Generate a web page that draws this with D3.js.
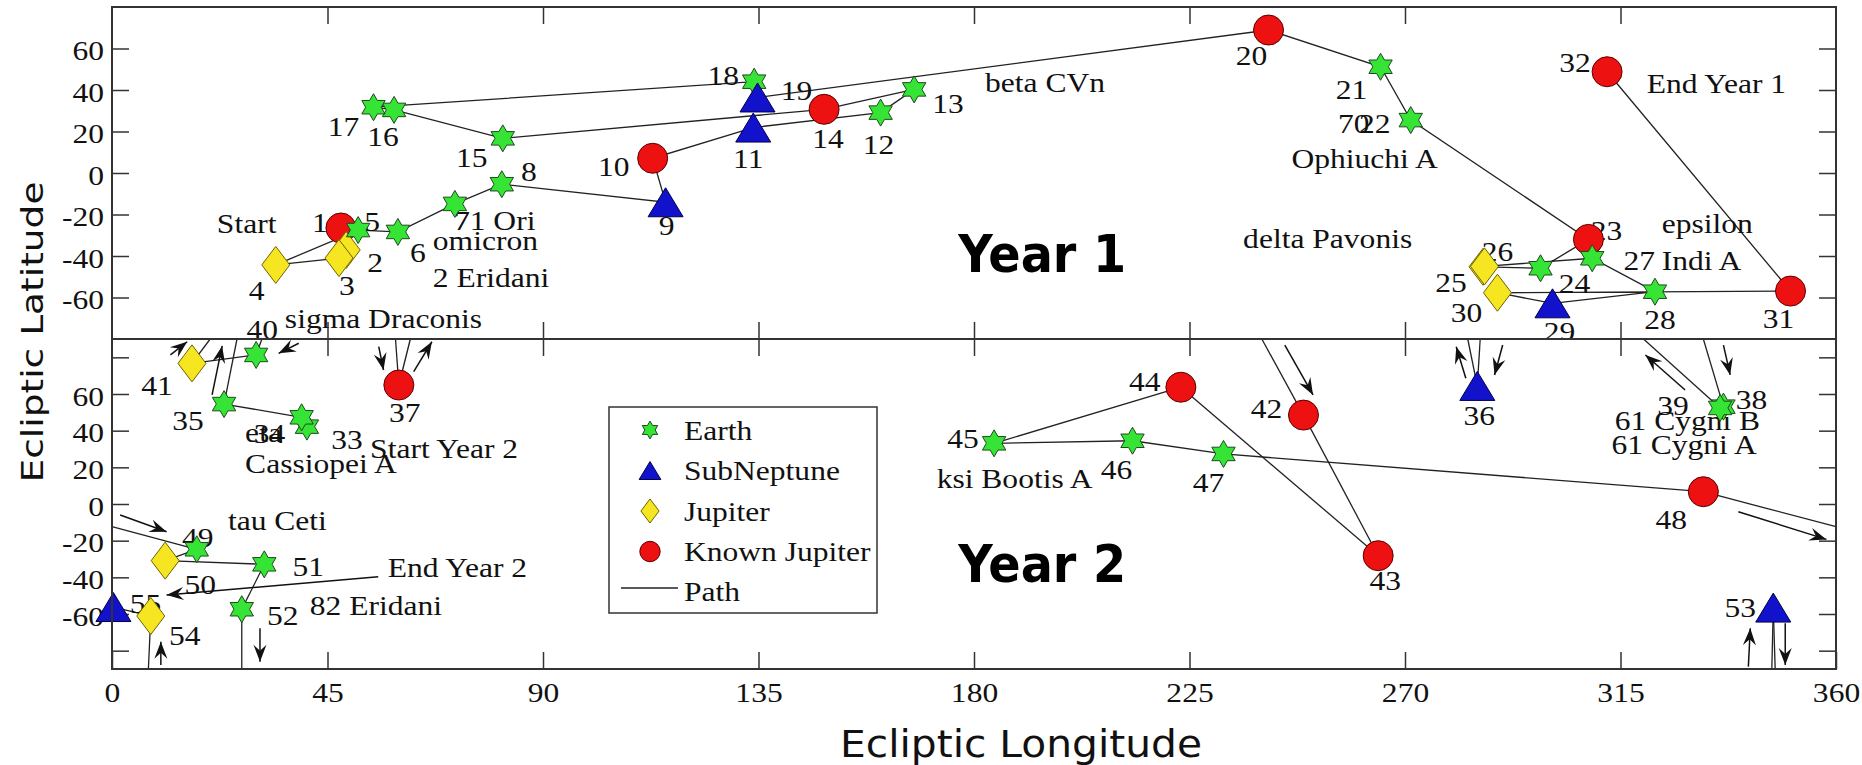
<!DOCTYPE html>
<html><head><meta charset="utf-8">
<script src="https://cdn.jsdelivr.net/npm/d3@7"></script>
<style>body{margin:0;background:#fff}svg{display:block}</style>
</head><body><svg id="c" width="1862" height="765"></svg>
<script>
// ---------------- DATA ----------------
const lonTicks = [0, 45, 90, 135, 180, 225, 270, 315, 360];
const latTicksTop = [-60, -40, -20, 0, 20, 40, 60];
const latTicksBottom = [-80, -60, -40, -20, 0, 20, 40, 60, 80];
const latLabelsBottom = [-60, -40, -20, 0, 20, 40, 60];

const legendNames = ["Earth", "SubNeptune", "Jupiter", "Known Jupiter", "Path"];
const legendTypes = ["E", "S", "J", "K"];

// Year 1 (top panel)
const y1Id  = d3.range(1, 33);
const y1Type = ["K","J","J","J","E","E","E","E","S","K","S","E","E","K","E","E","E","E","S","K","E","E","K","E","J","J","E","E","S","J","K","K"];
const y1Lon = [47.8,48.9,47.4,34.2,51.4,59.7,71.6,81.4,115.6,112.9,133.9,160.5,167.5,148.7,81.6,58.9,54.6,134.1,134.8,241.5,264.9,271.2,308.3,298.3,286.3,286.6,309.1,322.2,300.8,289.3,350.5,312.2];
const y1Lat = [-26.5,-37.1,-41.0,-44.3,-27.5,-28.4,-14.9,-5.4,-14.1,7.1,21.9,29.1,40.3,30.7,16.7,30.4,31.7,44.0,36.4,68.9,51.2,25.5,-32.0,-45.9,-45.2,-45.0,-41.1,-57.2,-62.8,-57.7,-56.9,48.8];

// Year 2 (bottom panel)
const y2Id  = d3.range(33, 56);
const y2Type = ["E","E","E","S","K","E","E","E","J","K","K","K","E","E","E","K","E","J","E","E","S","J","S"];
const y2Lon = [40.7,39.6,23.4,285.1,59.9,336.5,335.8,30.1,16.7,248.8,264.4,223.2,184.2,213.1,232.1,332.3,17.7,11.1,31.8,27.1,346.9,8.1,0.3];
const y2Lat = [42.2,47.3,54.5,64.4,64.9,53.1,52.4,81.3,76.7,48.5,-28.2,63.7,33.1,34.5,27.3,6.7,-24.7,-30.9,-32.9,-57.4,-56.5,-61.1,-56.2];
const y2Links = [[33,34],[34,35],[38,39],[40,41],[42,43],[43,44],[44,45],[45,46],[46,47],[47,48],[49,50],[50,51],[51,52],[54,55]];

// path pieces that leave the map at a pole or wrap around 360
const edgeFrom = [35, 36, 36, 37, 37, 38, 39, 40, 41, 42, 48, 49, 52, 53, 53, 54];
const edgeLon  = [26.1, 283.1, 285.7, 59.2, 62.3, 332.3, 319.8, 31.3, 20.5, 240.1, 360, 0, 27.1, 346.6, 347.3, 7.6];
const edgeLat  = [90, 90, 90, 90, 90, 90, 90, 90, 90, 90, -12.4, -12.4, -90, -90, -90, -90];

// direction arrows (bottom panel), head at second point
const arrLon1 = [20.9, 282.7, 290.4, 55.7, 63.0, 336.5, 328.5, 39.0, 12.2, 244.9, 339.6, 1.7, 30.9, 341.7, 349.4, 10.2, 55.6];
const arrLat1 = [59.5, 68.6, 86.7, 85.8, 72.2, 86.7, 62.2, 87.7, 81.3, 86.7, -4.2, -6.0, -67.8, -88.7, -65.1, -87.8, -39.7];
const arrLon2 = [23.0, 280.7, 288.7, 56.7, 66.8, 337.9, 320.2, 34.8, 15.7, 250.8, 358.0, 11.4, 30.9, 342.1, 349.4, 10.2, 11.4];
const arrLat2 = [86.2, 85.8, 70.4, 73.1, 88.5, 70.4, 81.3, 82.2, 88.5, 59.5, -19.3, -15.1, -86.0, -67.8, -87.8, -75.1, -49.6];

// star-name annotations
const topNames = ["Start","71 Ori","omicron","2 Eridani","sigma Draconis","beta CVn","70","Ophiuchi A","delta Pavonis","End Year 1","epsilon","Indi A"];
const topNameLon = [21.9, 71.4, 67.0, 67.0, 36.1, 182.3, 256.0, 246.3, 236.2, 320.5, 323.6, 323.6];
const topNameLat = [-28.9, -27.5, -37.1, -54.9, -74.7, 39.2, 19.1, 2.3, -36.3, 38.4, -29.1, -46.7];
const botNames = ["eta","Cassiopei A","Start Year 2","tau Ceti","End Year 2","82 Eridani","ksi Bootis A","61 Cygni B","61 Cygni A"];
const botNameLon = [27.8, 27.8, 53.9, 24.2, 57.6, 41.3, 172.2, 313.8, 313.1];
const botNameLat = [34.0, 16.7, 24.9, -14.2, -39.7, -60.5, 8.6, 40.4, 27.3];
const panelTitles = ["Year 1", "Year 2"];
const panelTitleLon = [176.7, 176.7];
const panelTitleLat = [-47.6, -42.4];

// ---------------- LAYOUT / STYLE ----------------
const y1Dx = [-21,29,8,-19,14,20,7,27,1,-39,-5,-2,34,4,-31,-11,-30,-31,39,-17,-29,-36,18,34,-32,13,47,5,7,-31,-12,-32];
const y1Dy = [4,22,37,35,1,30,26,-3,33,18,40,41,24,39,29,36,29,3,3,35,32,13,1,25,25,-5,12,37,38,29,37,0];
const y2Dx = [40,-32,-36,2,6,28,-47,6,-35,-37,7,-36,-31,-16,-15,-32,1,35,44,41,-33,34,32];
const y2Dy = [22,26,26,39,37,2,7,-16,32,3,34,4,5,38,38,37,-2,33,12,16,9,29,6];

const SERIF = "'Liberation Serif','Times New Roman',Times,serif";
const SANS = "'DejaVu Sans',Verdana,sans-serif";
const STRETCH = 1.19;
const FS = 26.5;
const typeStyle = {
  E: {fill: "#36e436", stroke: "#1f4a1f"},
  S: {fill: "#1212cc", stroke: "#00004a"},
  J: {fill: "#f6e622", stroke: "#6e6200"},
  K: {fill: "#ee1111", stroke: "#5a0000"}
};

const svg = d3.select("#c");
const x = d3.scaleLinear().domain([0, 360]).range([112, 1836]);
const yTop = d3.scaleLinear().domain([-80, 80]).range([339, 7]);
const yBot = d3.scaleLinear().domain([-90, 90]).range([669, 339]);

function symPath(type, k) {
  if (type === "E") {
    const R = 13.5 * k, r = R / Math.sqrt(3), p = [];
    for (let i = 0; i < 12; i++) {
      const a = -Math.PI / 2 + i * Math.PI / 6, rr = i % 2 ? r : R;
      p.push([rr * Math.cos(a), rr * Math.sin(a)]);
    }
    return "M" + p.map(d => d[0].toFixed(2) + "," + d[1].toFixed(2)).join("L") + "Z";
  }
  if (type === "S") { const w = 17.5 * k, h = 14.5 * k; return `M0,${-h}L${w},${h}L${-w},${h}Z`; }
  if (type === "J") { const w = 14 * k, h = 18.5 * k; return `M0,${-h}L${w},0L0,${h}L${-w},0Z`; }
  const r = 15 * k;
  return `M${r},0A${r},${r} 0 1,1 ${-r},0A${r},${r} 0 1,1 ${r},0Z`;
}

function stext(g, px, py, str, anchor, size) {
  return g.append("text").attr("class", "serif").attr("x", px).attr("y", py)
    .attr("text-anchor", anchor || "start")
    .style("font-family", SERIF).style("font-size", (size || FS) + "px").style("fill", "#111").text(str);
}

const defs = svg.append("defs");
defs.append("clipPath").attr("id", "clipTop").append("rect")
  .attr("x", x(0)).attr("y", yTop(80)).attr("width", x(360) - x(0)).attr("height", yTop(-80) - yTop(80));
defs.append("marker").attr("id", "ah").attr("markerUnits", "userSpaceOnUse")
  .attr("viewBox", "-18 -8 20 16").attr("refX", 0).attr("refY", 0)
  .attr("markerWidth", 20).attr("markerHeight", 16).attr("orient", "auto")
  .append("path").attr("d", "M0,0L-17,-6.5L-11,0L-17,6.5Z").attr("fill", "#111");

const P1 = y1Id.map((id, i) => ({id, type: y1Type[i], X: x(y1Lon[i]), Y: yTop(y1Lat[i]), dx: y1Dx[i], dy: y1Dy[i]}));
const P2 = y2Id.map((id, i) => ({id, type: y2Type[i], X: x(y2Lon[i]), Y: yBot(y2Lat[i]), dx: y2Dx[i], dy: y2Dy[i]}));
const byId2 = new Map(P2.map(p => [p.id, p]));

// ---------------- AXES / TICKS ----------------
function styleAxis(g) {
  g.select(".domain").remove();
  g.selectAll(".tick line").attr("stroke", "#333").attr("stroke-width", 1.5);
  g.selectAll(".tick text").attr("class", "serif").style("font-family", SERIF).style("font-size", FS + "px").style("fill", "#111");
}
svg.append("g").attr("transform", `translate(${x(0)},0)`)
  .call(d3.axisLeft(yTop).tickValues(latTicksTop).tickSizeInner(-17).tickSizeOuter(0).tickPadding(8).tickFormat(d => String(d)))
  .call(styleAxis).selectAll(".tick text").attr("dy", "0.42em");
svg.append("g").attr("transform", `translate(${x(0)},0)`)
  .call(d3.axisLeft(yBot).tickValues(latTicksBottom).tickSizeInner(-17).tickSizeOuter(0).tickPadding(8)
    .tickFormat(d => latLabelsBottom.includes(d) ? String(d) : ""))
  .call(styleAxis).selectAll(".tick text").attr("dy", "0.42em");
svg.append("g").attr("transform", `translate(${x(360)},0)`)
  .call(d3.axisRight(yTop).tickValues(latTicksTop).tickSizeInner(-17).tickSizeOuter(0).tickFormat(""))
  .call(styleAxis);
svg.append("g").attr("transform", `translate(${x(360)},0)`)
  .call(d3.axisRight(yBot).tickValues(latTicksBottom).tickSizeInner(-17).tickSizeOuter(0).tickFormat(""))
  .call(styleAxis);
svg.append("g").attr("transform", `translate(0,${yTop(80)})`)
  .call(d3.axisTop(x).tickValues(lonTicks.slice(1, -1)).tickSizeInner(-17).tickSizeOuter(0).tickFormat(""))
  .call(styleAxis);
svg.append("g").attr("transform", `translate(0,${yTop(-80)})`)
  .call(d3.axisTop(x).tickValues(lonTicks.slice(1, -1)).tickSizeInner(17).tickSizeOuter(0).tickFormat(""))
  .call(styleAxis);
svg.append("g").attr("transform", `translate(0,${yBot(90)})`)
  .call(d3.axisBottom(x).tickValues(lonTicks.slice(1, -1)).tickSizeInner(17).tickSizeOuter(0).tickFormat(""))
  .call(styleAxis);
svg.append("g").attr("transform", `translate(0,${yBot(-90)})`)
  .call(d3.axisBottom(x).tickValues(lonTicks).tickSizeInner(-17).tickSizeOuter(0).tickPadding(14).tickFormat(d => String(d)))
  .call(styleAxis);

// axis titles
svg.append("text").attr("transform", `translate(43,332) rotate(-90)`).attr("text-anchor", "middle")
  .attr("textLength", 301).attr("lengthAdjust", "spacingAndGlyphs")
  .style("font-family", SANS).style("font-size", "30px").style("fill", "#111").text("Ecliptic Latitude");
svg.append("text").attr("x", 1021).attr("y", 757).attr("text-anchor", "middle")
  .attr("textLength", 362).attr("lengthAdjust", "spacingAndGlyphs")
  .style("font-family", SANS).style("font-size", "36.5px").style("fill", "#111").text("Ecliptic Longitude");

// ---------------- PATH LINES ----------------
const lines = svg.append("g").attr("stroke", "#222").attr("stroke-width", 1.3).attr("fill", "none");
lines.append("path").attr("d", d3.line().x(d => d.X).y(d => d.Y)(P1));
y2Links.forEach(([a, b]) => {
  const A = byId2.get(a), B = byId2.get(b);
  lines.append("line").attr("x1", A.X).attr("y1", A.Y).attr("x2", B.X).attr("y2", B.Y);
});
edgeFrom.forEach((id, i) => {
  const A = byId2.get(id);
  lines.append("line").attr("x1", A.X).attr("y1", A.Y).attr("x2", x(edgeLon[i])).attr("y2", yBot(edgeLat[i]));
});
const arrows = svg.append("g").attr("stroke", "#111").attr("stroke-width", 1.5);
arrLon1.forEach((_, i) => {
  arrows.append("line").attr("x1", x(arrLon1[i])).attr("y1", yBot(arrLat1[i]))
    .attr("x2", x(arrLon2[i])).attr("y2", yBot(arrLat2[i])).attr("marker-end", "url(#ah)");
});

// ---------------- TEXT ----------------
const tTop = svg.append("g").attr("clip-path", "url(#clipTop)");
P1.forEach(p => stext(tTop, p.X + p.dx, p.Y + p.dy, String(p.id), "middle"));
topNames.forEach((n, i) => stext(tTop, x(topNameLon[i]), yTop(topNameLat[i]), n));
const tBot = svg.append("g");
P2.forEach(p => stext(tBot, p.X + p.dx, p.Y + p.dy, String(p.id), "middle"));
botNames.forEach((n, i) => stext(tBot, x(botNameLon[i]), yBot(botNameLat[i]), n));
panelTitles.forEach((t, i) => {
  svg.append("text").attr("x", x(panelTitleLon[i])).attr("y", (i === 0 ? yTop : yBot)(i === 0 ? panelTitleLat[i] : panelTitleLat[i]))
    .attr("textLength", 168).attr("lengthAdjust", "spacingAndGlyphs")
    .style("font-family", SANS).style("font-weight", "bold").style("font-size", "51px").style("fill", "#000").text(t);
});

// ---------------- MARKERS ----------------
const mk = svg.append("g");
[...P1, ...P2].forEach(p => {
  mk.append("path").attr("d", symPath(p.type, 1)).attr("transform", `translate(${p.X},${p.Y})`)
    .attr("fill", typeStyle[p.type].fill).attr("stroke", typeStyle[p.type].stroke).attr("stroke-width", 1);
});

// ---------------- LEGEND ----------------
const lg = svg.append("g").attr("transform", "translate(609,407)");
lg.append("rect").attr("width", 268).attr("height", 206).attr("fill", "#fff").attr("stroke", "#333").attr("stroke-width", 1.5);
const legendK = [0.66, 0.62, 0.65, 0.68];
legendTypes.forEach((t, i) => {
  const cy = 23 + i * 40.5;
  lg.append("path").attr("d", symPath(t, legendK[i])).attr("transform", `translate(41,${cy})`)
    .attr("fill", typeStyle[t].fill).attr("stroke", typeStyle[t].stroke).attr("stroke-width", 1);
});
legendNames.forEach((n, i) => stext(lg, 75, 33 + i * 40.3, n));
lg.append("line").attr("x1", 12).attr("x2", 69).attr("y1", 181).attr("y2", 181).attr("stroke", "#222").attr("stroke-width", 1.3);

// ---------------- FRAME ----------------
const fr = svg.append("g").attr("fill", "none").attr("stroke", "#333").attr("stroke-width", 2);
fr.append("rect").attr("x", x(0)).attr("y", yTop(80)).attr("width", x(360) - x(0)).attr("height", yTop(-80) - yTop(80));
fr.append("rect").attr("x", x(0)).attr("y", yBot(90)).attr("width", x(360) - x(0)).attr("height", yBot(-90) - yBot(90));

// horizontally stretched serif text (as in the reference)
d3.selectAll("text.serif").each(function () {
  const L = this.getComputedTextLength();
  if (L > 0) {
    this.setAttribute("textLength", (L * STRETCH).toFixed(1));
    this.setAttribute("lengthAdjust", "spacingAndGlyphs");
  }
});
</script></body></html>
